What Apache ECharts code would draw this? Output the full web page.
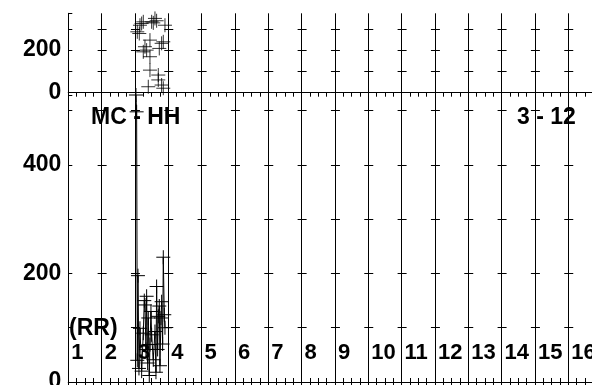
<!DOCTYPE html>
<html>
<head>
<meta charset="utf-8">
<title>MC - HH</title>
<script src="https://cdn.jsdelivr.net/npm/echarts@6/dist/echarts.min.js"></script>
<style>
  html, body { margin: 0; padding: 0; background: #fff; }
  #main { width: 592px; height: 385px; }
</style>
</head>
<body>
<div id="main"></div>
<script>
// channel labels along the bottom panel (one per column)
var channels = ['1','2','3','4','5','6','7','8','9','10','11','12','13','14','15','16'];

// upper panel: scattered points (x = channel position, y = value)
var topX = [2.15, 2.07, 2.13, 2.20, 2.25, 2.50, 2.60, 2.55, 2.65, 2.90, 2.45, 2.30,
            2.25, 2.35, 2.80, 2.85, 2.73, 2.45, 2.45, 2.70, 2.70, 2.40, 2.85, 2.80];
var topY = [317, 286, 278, 325, 333, 333, 349, 328, 338, 317, 247, 216,
            192, 200, 232, 239, 208, 169, 106, 83, 60, 28, 21, 36];

// lower panel: connected points
var botX = [2.03, 2.05, 2.07, 2.09, 2.12, 2.15, 2.20, 2.25, 2.28, 2.30, 2.33, 2.35,
            2.38, 2.40, 2.43, 2.45, 2.48, 2.50, 2.55, 2.60, 2.63, 2.65, 2.68, 2.70,
            2.73, 2.75, 2.78, 2.80, 2.83, 2.85, 2.88, 2.90];
var botY = [529, 498, 40, 196, 25, 99, 20, 90, 150, 142, 60, 158,
            35, 118, 12, 69, 130, 87, 41, 93, 18, 176, 60, 121,
            140, 30, 118, 148, 70, 230, 124, 100];

var topTicks = [100, 200, 300];
var botTicks = [100, 200, 300, 400, 500];
var titleLeft = 'MC - HH';
var titleRight = '3 - 12';
var unitText = '(RR)';

var FONT = 'Liberation Sans';
var LEFT = 68.3, UNIT = 33.33;

var myChart = echarts.init(document.getElementById('main'));

function pairs(xs, ys) {
    var out = [];
    for (var i = 0; i < xs.length; i++) out.push([xs[i], ys[i]]);
    return out;
}

var plus = 'path://M0,6L12,6M6,0L6,12';

var xBase = { type: 'value', min: 0, max: 16, interval: 1, axisLabel: { show: false },
              splitLine: { show: false },
              axisLine: { show: true, lineStyle: { color: '#000', width: 1 } } };

function xAx(grid, pos, ticks, split, labels) {
    var a = echarts.util.merge({}, xBase, true);
    a.gridIndex = grid;
    a.position = pos;
    a.axisTick = { show: ticks, inside: true, length: 4, lineStyle: { color: '#000' } };
    a.minorTick = { show: ticks, splitNumber: 4, length: 4, lineStyle: { color: '#000' } };
    a.splitLine = { show: split, lineStyle: { color: '#000', width: 1 } };
    if (labels) {
        a.axisLabel = {
            show: true, inside: true, margin: 29, align: 'left', verticalAlign: 'middle',
            padding: [0, 0, 0, 3], showMinLabel: true, showMaxLabel: true,
            color: '#000', fontFamily: FONT, fontWeight: 'bold', fontSize: 22,
            formatter: function (v) { return channels[v] || ''; }
        };
    }
    return a;
}

function yAx(grid, max) {
    return {
        type: 'value', gridIndex: grid, position: 'left', min: 0, max: max, interval: 100,
        axisLine: { show: true, lineStyle: { color: '#000', width: 1 } },
        axisTick: { show: true, inside: true, length: 4, lineStyle: { color: '#000' } },
        splitLine: { show: false },
        axisLabel: {
            margin: 7, color: '#000', fontFamily: FONT, fontWeight: 'bold', fontSize: 23,
            formatter: function (v) { return v % 200 === 0 ? String(v) : ''; }
        }
    };
}

// small crossing ticks on every column line
function crossAxes(grid, max, ticks) {
    var list = [];
    for (var k = 1; k <= 15; k++) {
        list.push({
            type: 'value', gridIndex: grid, position: 'left', min: 0, max: max, interval: 100,
            offset: 4 - k * UNIT,
            axisLine: { show: false },
            axisLabel: { show: false },
            splitLine: { show: false },
            axisTick: { show: true, inside: true, length: 9, customValues: ticks,
                        lineStyle: { color: '#000' } }
        });
    }
    return list;
}

var yAxes = [yAx(0, 373), yAx(1, 529)]
    .concat(crossAxes(0, 373, topTicks))
    .concat(crossAxes(1, 529, botTicks));

myChart.setOption({
    animation: false,
    backgroundColor: '#fff',
    grid: [
        { left: LEFT, top: 13.3, width: 16 * UNIT, height: 79.4, outerBoundsMode: 'none' },
        { left: LEFT, top: 95, width: 16 * UNIT, height: 287, outerBoundsMode: 'none' }
    ],
    xAxis: [
        xAx(0, 'top', true, false, false),
        xAx(0, 'bottom', false, true, false),
        xAx(1, 'top', true, false, false),
        xAx(1, 'bottom', true, true, true)
    ],
    yAxis: yAxes,
    graphic: [
        { type: 'text', left: 91, top: 106, style: { text: titleLeft, fill: '#000',
          font: 'bold 23px ' + FONT } },
        { type: 'text', left: 517, top: 106, style: { text: titleRight, fill: '#000',
          font: 'bold 23px ' + FONT } },
        { type: 'text', left: 69, top: 317, style: { text: unitText, fill: '#000',
          font: 'bold 23px ' + FONT } }
    ],
    series: [
        {
            type: 'scatter', xAxisIndex: 1, yAxisIndex: 0,
            data: pairs(topX, topY),
            symbol: plus, symbolSize: 14,
            itemStyle: { color: 'rgba(0,0,0,0)', borderColor: '#000', borderWidth: 1 }
        },
        {
            type: 'line', xAxisIndex: 3, yAxisIndex: 1,
            data: pairs(botX, botY),
            symbol: plus, symbolSize: 14, showAllSymbol: true,
            lineStyle: { color: '#000', width: 1 },
            itemStyle: { color: 'rgba(0,0,0,0)', borderColor: '#000', borderWidth: 1 }
        }
    ]
});
</script>
</body>
</html>
